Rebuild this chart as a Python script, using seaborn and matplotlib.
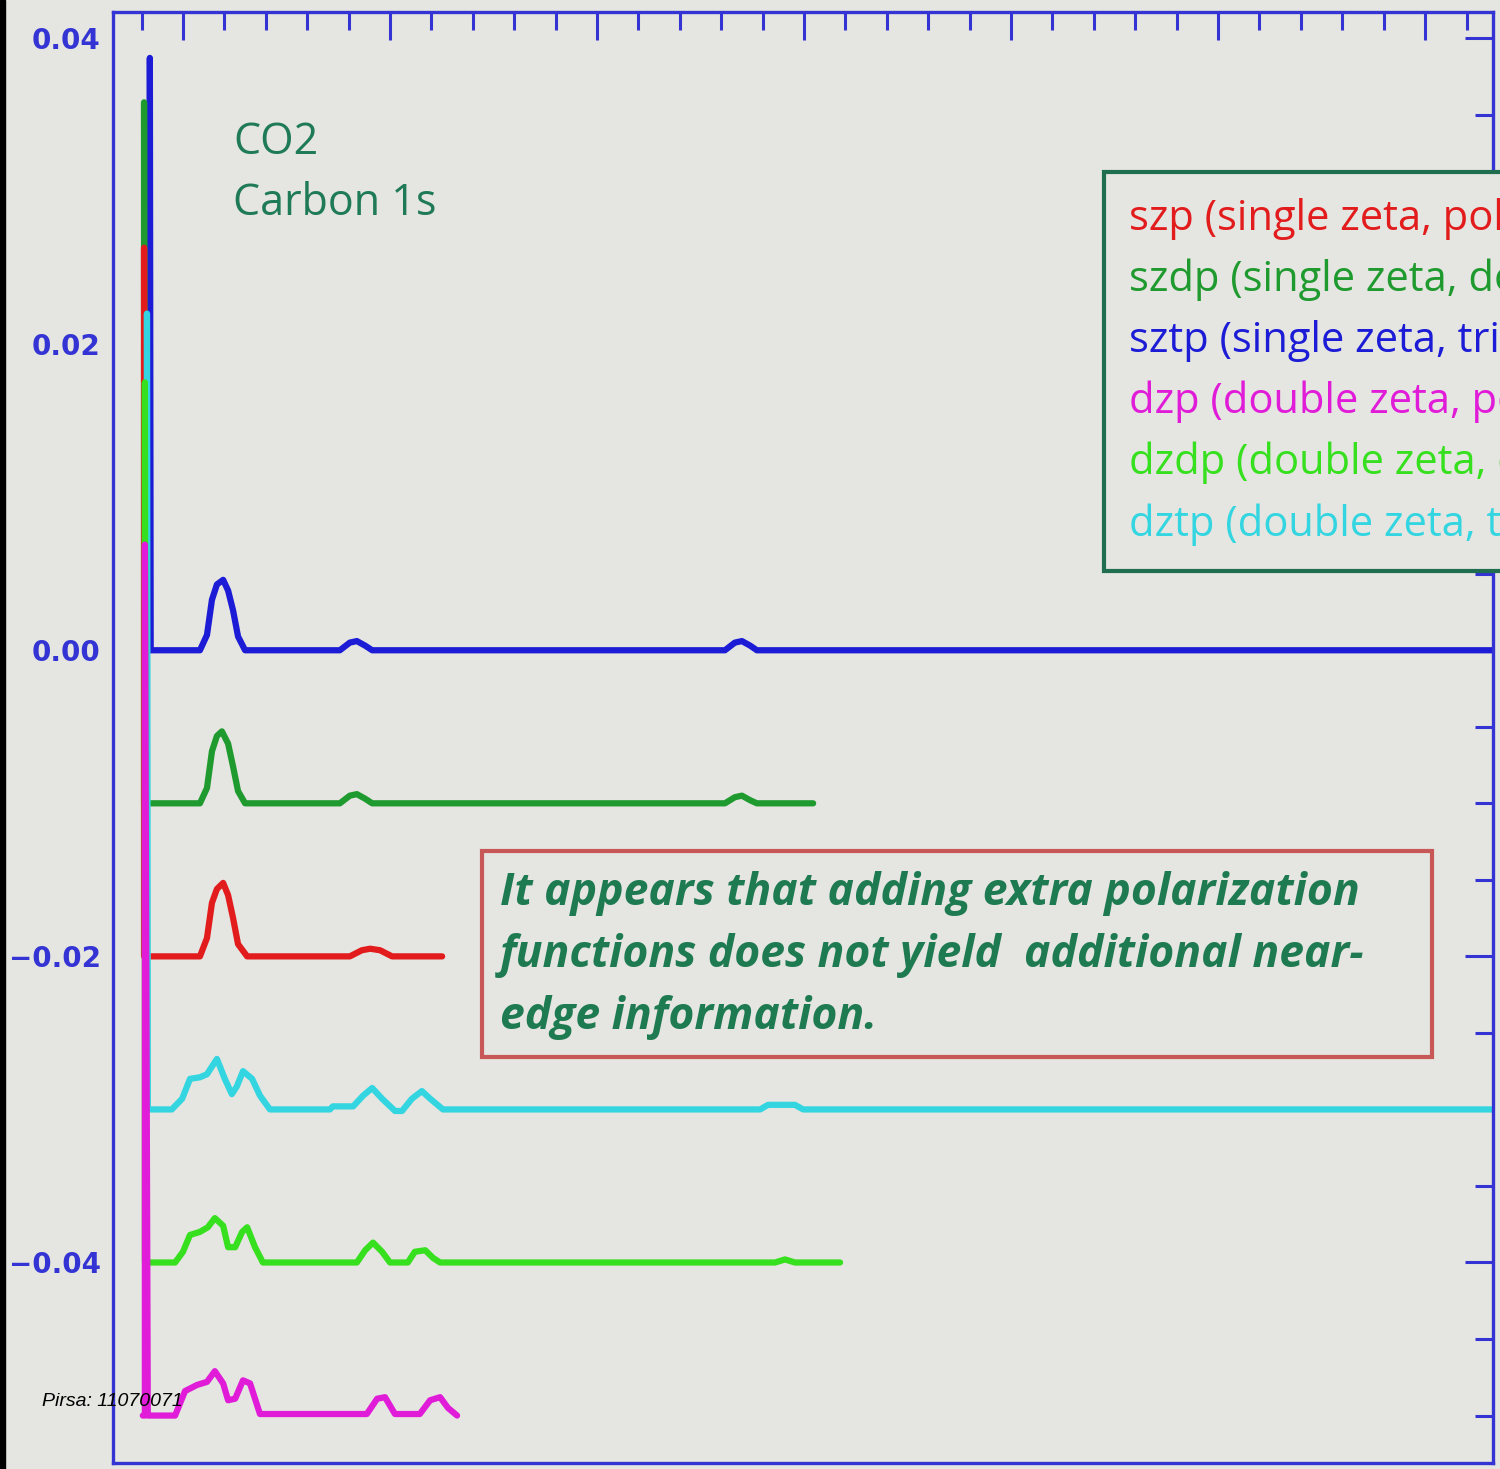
import numpy as np
import matplotlib.pyplot as plt
import pandas as pd
import seaborn as sns
from matplotlib.ticker import MultipleLocator, FuncFormatter
from matplotlib.patches import Rectangle
from matplotlib.lines import Line2D

# %%
# spectra, drawn in this order (later ones sit on top of the edge spike)
names = ['sztp', 'szdp', 'szp', 'dztp', 'dzdp', 'dzp']
offsets = [0.0, -0.01, -0.02, -0.03, -0.04, -0.05]
colors = ['#1c1cd6', '#1f9a2e', '#e21c1c', '#33d6e0', '#36e01e', '#e01cd8']

sztp_x = [284.20, 284.20, 284.22, 285.41, 285.58, 285.70, 285.82, 285.97, 286.09, 286.21, 286.33, 286.50,
          288.79, 289.03, 289.20, 289.40, 289.57, 298.09, 298.33, 298.50, 298.70, 298.86, 316.81]
sztp_y = [0, 0.0387, 0, 0, 0.0010, 0.0033, 0.0043, 0.0046, 0.0039, 0.0026, 0.0009, 0,
          0, 0.0005, 0.0006, 0.0003, 0, 0, 0.0005, 0.0006, 0.0003, 0, 0]

szdp_x = [284.06, 284.06, 284.08, 285.41, 285.58, 285.70, 285.82, 285.94, 286.09, 286.21, 286.33, 286.50,
          288.79, 289.03, 289.20, 289.40, 289.57, 298.09, 298.33, 298.50, 298.70, 298.86, 300.22]
szdp_y = [0, 0.0458, 0, 0, 0.0010, 0.0034, 0.0044, 0.0047, 0.0039, 0.0024, 0.0008, 0,
          0, 0.0005, 0.0006, 0.0003, 0, 0, 0.0004, 0.0005, 0.0002, 0, 0]

szp_x = [284.06, 284.06, 284.08, 285.41, 285.58, 285.70, 285.82, 285.97, 286.09, 286.21, 286.33, 286.55,
         289.03, 289.32, 289.52, 289.76, 290.05, 291.26]
szp_y = [0, 0.0463, 0, 0, 0.0012, 0.0035, 0.0044, 0.0048, 0.0040, 0.0025, 0.0008, 0,
         0, 0.0004, 0.0005, 0.0004, 0, 0]

dztp_x = [284.13, 284.13, 284.15, 284.73, 284.98, 285.17, 285.41, 285.58, 285.82, 286.01, 286.18, 286.30,
          286.45, 286.67, 286.86, 287.10, 288.55, 288.62, 289.11, 289.35, 289.57, 289.81, 290.12, 290.29,
          290.53, 290.77, 290.97, 291.28, 298.94, 299.13, 299.78, 299.98, 316.81]
dztp_y = [0, 0.0520, 0, 0, 0.0007, 0.0020, 0.0021, 0.0023, 0.0033, 0.0020, 0.0010, 0.0015,
          0.0025, 0.0020, 0.0009, 0, 0, 0.0002, 0.0002, 0.0009, 0.0014, 0.0007, -0.0001, -0.0001,
          0.0007, 0.0012, 0.0007, 0, 0, 0.0003, 0.0003, 0, 0]

dzdp_x = [284.08, 284.08, 284.10, 284.81, 285.00, 285.17, 285.41, 285.60, 285.77, 285.97, 286.09, 286.26,
          286.43, 286.55, 286.74, 286.93, 289.20, 289.40, 289.59, 289.81, 290.00, 290.43, 290.60, 290.85,
          291.04, 291.21, 299.30, 299.54, 299.78, 300.87]
dzdp_y = [0, 0.0575, 0, 0, 0.0007, 0.0018, 0.0020, 0.0023, 0.0029, 0.0024, 0.0010, 0.0010,
          0.0020, 0.0023, 0.0010, 0, 0, 0.0008, 0.0013, 0.0007, 0, 0, 0.0007, 0.0008,
          0.0003, 0, 0, 0.0002, 0, 0]

dzp_x = [284.03, 284.08, 284.08, 284.15, 284.81, 285.05, 285.34, 285.58, 285.77, 285.97, 286.09, 286.26,
         286.45, 286.62, 286.86, 289.44, 289.69, 289.88, 290.12, 290.72, 290.97, 291.21, 291.40, 291.62]
dzp_y = [0, 0, 0.0569, 0, 0, 0.0016, 0.0020, 0.0022, 0.0029, 0.0021, 0.0010, 0.0011,
         0.0023, 0.0021, 0.0001, 0.0001, 0.0011, 0.0012, 0.0001, 0.0001, 0.0010, 0.0012, 0.0005, 0]

xs = [sztp_x, szdp_x, szp_x, dztp_x, dzdp_x, dzp_x]
ys = [sztp_y, szdp_y, szp_y, dztp_y, dzdp_y, dzp_y]

legend_order = ['szp', 'szdp', 'sztp', 'dzp', 'dzdp', 'dztp']
legend_labels = {'szp': 'szp (single zeta, polarized)',
                 'szdp': 'szdp (single zeta, double polarized)',
                 'sztp': 'sztp (single zeta, triple polarized)',
                 'dzp': 'dzp (double zeta, polarized)',
                 'dzdp': 'dzdp (double zeta, double polarized)',
                 'dztp': 'dztp (double zeta, triple polarized)'}

note = "It appears that adding extra polarization\nfunctions does not yield  additional near-\nedge information."

# %%
rows = []
for name, off, xv, yv in zip(names, offsets, xs, ys):
    for i, (x, y) in enumerate(zip(xv, yv)):
        rows.append((name, i, x, y + off))
df = pd.DataFrame(rows, columns=['basis', 'step', 'energy', 'intensity'])

sns.set_style('white')
plt.rcParams['font.family'] = ['Open Sans', 'DejaVu Sans']
bg = '#e5e5e1'
axis_blue = '#3434d4'

fig = plt.figure(figsize=(15, 14.69), dpi=100, facecolor=bg)
ax = fig.add_axes([113/1500, 6/1469, 1380/1500, 1451/1469])
ax.set_facecolor(bg)

sns.lineplot(data=df, x='energy', y='intensity', hue='basis', hue_order=names, palette=colors,
             sort=False, estimator=None, linewidth=4.5, legend=False, ax=ax)

ax.set_xlim(283.31, 316.64)
ax.set_ylim(-0.0531, 0.0417)
ax.set_xlabel('')
ax.set_ylabel('')
ax.xaxis.set_major_locator(MultipleLocator(5))
ax.xaxis.set_minor_locator(MultipleLocator(1))
ax.yaxis.set_major_locator(MultipleLocator(0.02))
ax.yaxis.set_minor_locator(MultipleLocator(0.005))
ax.yaxis.set_major_formatter(FuncFormatter(lambda v, p: f'{v:.2f}'.replace('-', '\u2212')))
for s in ax.spines.values():
    s.set_color(axis_blue)
    s.set_linewidth(2.4)
ax.tick_params(which='both', direction='in', top=True, right=True, color=axis_blue, width=2.2,
               labelbottom=False)
ax.tick_params(which='major', length=20)
ax.tick_params(which='minor', length=13)
ax.tick_params(axis='y', labelcolor=axis_blue, labelsize=20, pad=9)
for t in ax.get_yticklabels():
    t.set_family('DejaVu Sans')
    t.set_fontweight('bold')

ax.text(233/1500, 1-173/1469, 'CO2\nCarbon 1s', transform=fig.transFigure, color='#1f7a58',
        fontsize=31, va='center', ha='left', linespacing=1.5)

handles = [Line2D([], [], color=colors[names.index(n)]) for n in legend_order]
leg = ax.legend(handles, [legend_labels[n] for n in legend_order], loc='upper left',
                bbox_to_anchor=(1104/1500, 1-172/1469), bbox_transform=fig.transFigure,
                borderaxespad=0, handlelength=0, handletextpad=0, labelcolor='linecolor',
                fontsize=30, borderpad=0.6, labelspacing=0.45, fancybox=False, framealpha=1,
                facecolor=bg, edgecolor='#1f6e50')
leg.get_frame().set_linewidth(3)
for h in leg.legend_handles:
    h.set_visible(False)

fig.patches.append(Rectangle((482/1500, 1-1057/1469), 950/1500, 206/1469, transform=fig.transFigure,
                             facecolor='none', edgecolor='#c85858', linewidth=3))
fig.text(500/1500, 1-955/1469, note, color='#1e7a50', fontsize=32, fontweight='bold',
         style='italic', va='center', ha='left', linespacing=1.5)

fig.text(42/1500, 1-1402/1469, 'Pirsa: 11070071', family='Liberation Sans', style='italic',
         fontsize=14, va='center', ha='left', color='black')
fig.patches.append(Rectangle((0, 0), 5/1500, 1, transform=fig.transFigure, color='black'))

plt.savefig('out.png', dpi=100, facecolor=bg)
